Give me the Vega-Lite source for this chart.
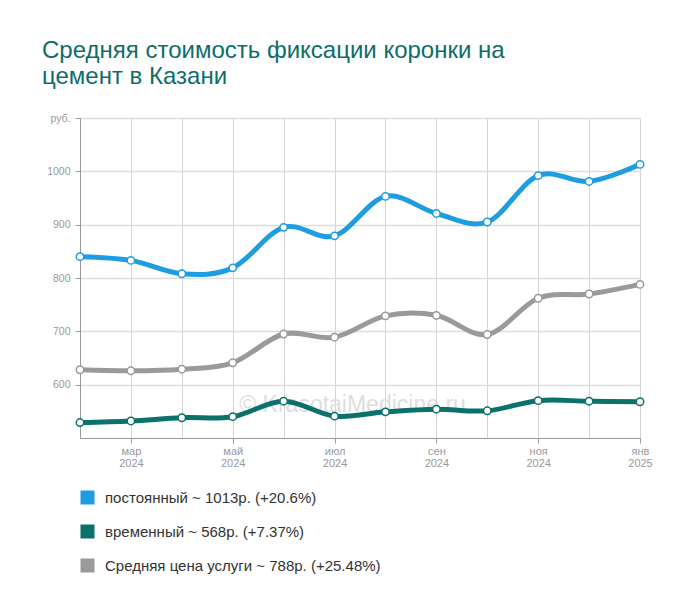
{
  "$schema": "https://vega.github.io/schema/vega-lite/v6.json",
  "width": 560,
  "height": 320,
  "autosize": "none",
  "padding": {"left": 80, "top": 118, "right": 60, "bottom": 177},
  "background": "white",
  "title": {
    "text": ["Средняя стоимость фиксации коронки на", "цемент в Казани"],
    "anchor": "start",
    "frame": "group",
    "dx": -38,
    "fontSize": 24,
    "fontWeight": "normal",
    "font": "Liberation Sans",
    "color": "#0d6e69",
    "lineHeight": 26,
    "offset": 24
  },
  "config": {
    "view": {"stroke": null},
    "font": "Liberation Sans"
  },
  "datasets": {
    "prices": [
      {"m": "2024-02", "s": "постоянный ~ 1013р. (+20.6%)", "v": 840},
      {"m": "2024-03", "s": "постоянный ~ 1013р. (+20.6%)", "v": 833},
      {"m": "2024-04", "s": "постоянный ~ 1013р. (+20.6%)", "v": 808},
      {"m": "2024-05", "s": "постоянный ~ 1013р. (+20.6%)", "v": 819},
      {"m": "2024-06", "s": "постоянный ~ 1013р. (+20.6%)", "v": 895},
      {"m": "2024-07", "s": "постоянный ~ 1013р. (+20.6%)", "v": 879},
      {"m": "2024-08", "s": "постоянный ~ 1013р. (+20.6%)", "v": 953},
      {"m": "2024-09", "s": "постоянный ~ 1013р. (+20.6%)", "v": 921},
      {"m": "2024-10", "s": "постоянный ~ 1013р. (+20.6%)", "v": 905},
      {"m": "2024-11", "s": "постоянный ~ 1013р. (+20.6%)", "v": 992},
      {"m": "2024-12", "s": "постоянный ~ 1013р. (+20.6%)", "v": 981},
      {"m": "2025-01", "s": "постоянный ~ 1013р. (+20.6%)", "v": 1013},
      {"m": "2024-02", "s": "временный ~ 568р. (+7.37%)", "v": 529},
      {"m": "2024-03", "s": "временный ~ 568р. (+7.37%)", "v": 532},
      {"m": "2024-04", "s": "временный ~ 568р. (+7.37%)", "v": 538},
      {"m": "2024-05", "s": "временный ~ 568р. (+7.37%)", "v": 540},
      {"m": "2024-06", "s": "временный ~ 568р. (+7.37%)", "v": 569},
      {"m": "2024-07", "s": "временный ~ 568р. (+7.37%)", "v": 541},
      {"m": "2024-08", "s": "временный ~ 568р. (+7.37%)", "v": 549},
      {"m": "2024-09", "s": "временный ~ 568р. (+7.37%)", "v": 554},
      {"m": "2024-10", "s": "временный ~ 568р. (+7.37%)", "v": 551},
      {"m": "2024-11", "s": "временный ~ 568р. (+7.37%)", "v": 570},
      {"m": "2024-12", "s": "временный ~ 568р. (+7.37%)", "v": 569},
      {"m": "2025-01", "s": "временный ~ 568р. (+7.37%)", "v": 568},
      {"m": "2024-02", "s": "Средняя цена услуги ~ 788р. (+25.48%)", "v": 628},
      {"m": "2024-03", "s": "Средняя цена услуги ~ 788р. (+25.48%)", "v": 626},
      {"m": "2024-04", "s": "Средняя цена услуги ~ 788р. (+25.48%)", "v": 629},
      {"m": "2024-05", "s": "Средняя цена услуги ~ 788р. (+25.48%)", "v": 641},
      {"m": "2024-06", "s": "Средняя цена услуги ~ 788р. (+25.48%)", "v": 695},
      {"m": "2024-07", "s": "Средняя цена услуги ~ 788р. (+25.48%)", "v": 689},
      {"m": "2024-08", "s": "Средняя цена услуги ~ 788р. (+25.48%)", "v": 729},
      {"m": "2024-09", "s": "Средняя цена услуги ~ 788р. (+25.48%)", "v": 730},
      {"m": "2024-10", "s": "Средняя цена услуги ~ 788р. (+25.48%)", "v": 694},
      {"m": "2024-11", "s": "Средняя цена услуги ~ 788р. (+25.48%)", "v": 762},
      {"m": "2024-12", "s": "Средняя цена услуги ~ 788р. (+25.48%)", "v": 770},
      {"m": "2025-01", "s": "Средняя цена услуги ~ 788р. (+25.48%)", "v": 788}
    ],
    "mark": [
      {"m": "2024-07", "v": 562, "t": "© KrasotaiMedicine.ru"}
    ]
  },
  "layer": [
    {
      "data": {"name": "mark"},
      "mark": {"type": "text", "fontSize": 23, "color": "#dedede", "align": "center", "baseline": "middle", "dx": 18},
      "encoding": {
        "x": {"field": "m", "type": "ordinal"},
        "y": {"field": "v", "type": "quantitative"},
        "text": {"field": "t"}
      }
    },
    {
      "data": {"name": "prices"},
      "mark": {"type": "line", "interpolate": "cardinal", "strokeWidth": 5},
      "encoding": {
        "x": {
          "field": "m", "type": "ordinal", "sort": null,
          "scale": {"type": "point", "padding": 0},
          "axis": {
            "title": null,
            "labelAngle": 0,
            "labelAlign": "center",
            "labelExpr": "toNumber(substring(datum.value,5,7)) % 2 == 1 ? [['янв','фев','мар','апр','май','июн','июл','авг','сен','окт','ноя','дек'][toNumber(substring(datum.value,5,7)) - 1], substring(datum.value,0,4)] : ''",
            "labelColor": "#999999",
            "labelFontSize": 11,
            "labelLineHeight": 12,
            "labelPadding": 8,
            "tickSize": 5,
            "tickColor": {"condition": {"test": "toNumber(substring(datum.value,5,7)) % 2 == 1", "value": "#999999"}, "value": "transparent"},
            "domainColor": "#999999",
            "grid": true,
            "gridColor": "#d4d4d4"
          }
        },
        "y": {
          "field": "v", "type": "quantitative",
          "scale": {"domain": [500, 1100], "nice": false, "zero": false},
          "axis": {
            "title": null,
            "values": [600, 700, 800, 900, 1000, 1100],
            "labelExpr": "datum.value == 1100 ? 'руб.' : datum.label",
            "format": "d",
            "labelColor": "#999999",
            "labelFontSize": 10.5,
            "labelPadding": 5,
            "tickSize": 5,
            "tickColor": "#999999",
            "domainColor": "#999999",
            "grid": true,
            "gridColor": "#dddddd",
            "gridWidth": 1.3
          }
        },
        "color": {
          "field": "s", "type": "nominal",
          "scale": {
            "domain": ["постоянный ~ 1013р. (+20.6%)", "временный ~ 568р. (+7.37%)", "Средняя цена услуги ~ 788р. (+25.48%)"],
            "range": ["#1e9de1", "#0b716b", "#9a9a9a"]
          },
          "legend": {
            "title": null,
            "orient": "none",
            "legendX": 0,
            "legendY": 372,
            "direction": "vertical",
            "symbolType": "square",
            "symbolSize": 196,
            "symbolStrokeWidth": 0,
            "labelFontSize": 15,
            "labelColor": "#333333",
            "labelOffset": 10,
            "labelLimit": 500,
            "rowPadding": 18,
            "encode": {"symbols": {"update": {"fill": {"scale": "color", "field": "value"}, "stroke": {"value": "transparent"}}}}
          }
        }
      }
    },
    {
      "data": {"name": "prices"},
      "mark": {"type": "point", "filled": true, "fill": "white", "size": 55, "strokeWidth": 1.5, "opacity": 1},
      "encoding": {
        "x": {"field": "m", "type": "ordinal", "sort": null},
        "y": {"field": "v", "type": "quantitative"},
        "stroke": {"field": "s", "type": "nominal", "legend": null, "scale": {
            "domain": ["постоянный ~ 1013р. (+20.6%)", "временный ~ 568р. (+7.37%)", "Средняя цена услуги ~ 788р. (+25.48%)"],
            "range": ["#1e9de1", "#0b716b", "#9a9a9a"]
          }}
      }
    }
  ]
}
